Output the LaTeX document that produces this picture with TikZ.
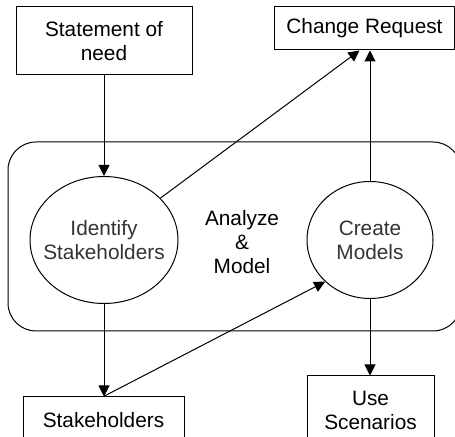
\documentclass[tikz,border=0pt]{standalone}
\usepackage{fontspec}
\setmainfont{Liberation Sans}
\usetikzlibrary{arrows.meta, shapes.geometric, calc}
\tikzset{
  every picture/.style={font=\fontsize{10.4}{12}\selectfont, line width=0.5pt},
  doc/.style={draw, rectangle, align=center, inner sep=0pt},
  activity/.style={draw, ellipse, align=center, inner sep=0pt, text=black!80},
  frame/.style={draw, rectangle, rounded corners=14pt, inner sep=0pt},
  flow/.style={-{Triangle[length=5.5pt, width=5.5pt]}},
}
\begin{document}
\begin{tikzpicture}[x=0.5pt, y=-0.5pt]
  \useasboundingbox (0,0) rectangle (455,437);
  % enclosing activity
  \node[frame, minimum width=453pt*0.5, minimum height=189pt*0.5] (analyze) at (234.5,236.5) {};
  \node[align=center] (analyzetext) at (242,242) {Analyze\\\&\\Model};
  % activities
  \node[activity, inner xsep=-4.3pt, minimum width=74pt, minimum height=63.5pt] (identify) at (104,240) {Identify\\Stakeholders};
  \node[activity, minimum width=63pt, minimum height=58.5pt] (create) at (370,240) {Create\\Models};
  % documents
  \node[doc, minimum width=88pt, minimum height=34pt] (need) at (104,41) {Statement of\\need};
  \node[doc, minimum width=90pt, minimum height=21.5pt] (change) at (364.5,28.5) {Change Request};
  \node[doc, minimum width=80.5pt, minimum height=23pt] (stake) at (103.5,420) {Stakeholders};
  \node[doc, minimum width=63.5pt, minimum height=34pt] (scen) at (370.5,410) {Use\\Scenarios};
  % flows
  \draw[flow] (need) -- (identify);
  \draw[flow] (identify) -- ([xshift=-2.5pt]change.south);
  \draw[flow] (create.north) -- (create.north |- change.south);
  \draw[flow] (identify.south) -- (identify.south |- stake.north);
  \draw[flow] (stake.north) -- (create.south west);
  \draw[flow] (create.south) -- (create.south |- scen.north);
\end{tikzpicture}
\end{document}
